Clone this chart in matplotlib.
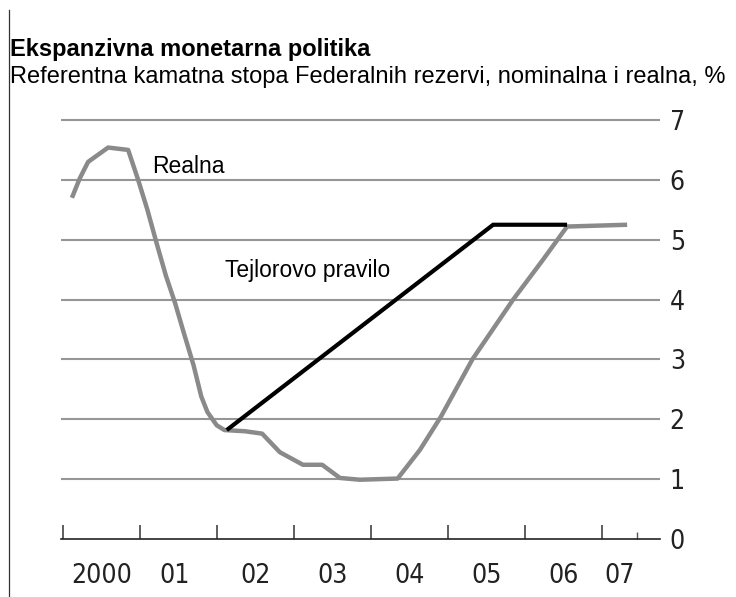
import matplotlib
matplotlib.use("Agg")
import matplotlib.pyplot as plt
from matplotlib.lines import Line2D
from matplotlib import font_manager

# Real federal funds rate (years, %)
real_years = [2000.12, 2000.22, 2000.33, 2000.59, 2000.85, 2000.98, 2001.10,
              2001.22, 2001.34, 2001.46, 2001.56, 2001.70, 2001.80, 2001.88,
              2002.00, 2002.10, 2002.37, 2002.59, 2002.82, 2003.12, 2003.37,
              2003.60, 2003.86, 2004.35, 2004.64, 2004.91, 2005.32, 2005.85,
              2006.24, 2006.55, 2007.33]
real_values = [5.70, 6.02, 6.30, 6.54, 6.50, 6.00, 5.50,
               4.94, 4.40, 3.94, 3.50, 2.90, 2.38, 2.12,
               1.90, 1.82, 1.80, 1.76, 1.45, 1.24, 1.24,
               1.02, 0.99, 1.01, 1.49, 2.04, 3.00, 4.00,
               4.67, 5.22, 5.25]

# Taylor rule path (years, %)
taylor_years = [2002.13, 2005.59, 2006.55]
taylor_values = [1.82, 5.25, 5.25]

# Axis labels
year_ticks = [2000, 2001, 2002, 2003, 2004, 2005, 2006, 2007]
label_positions = [2000.5, 2001.45, 2002.5, 2003.5, 2004.5, 2005.5, 2006.5, 2007.23]
year_labels = ["2000", "01", "02", "03", "04", "05", "06", "07"]
data_end = 2007.46
y_ticks = [0, 1, 2, 3, 4, 5, 6, 7]

title = "Ekspanzivna monetarna politika"
subtitle = "Referentna kamatna stopa Federalnih rezervi, nominalna i realna, %"

# narrow face for the axis numbers, whichever is installed
installed = {f.name for f in font_manager.fontManager.ttflist}
num_family = [f for f in ["Liberation Sans Narrow", "DejaVu Sans Condensed"]
              if f in installed] + ["DejaVu Sans"]
num_stretch = "normal" if num_family[0] != "DejaVu Sans" else "condensed"

W, H = 736, 597
fig = plt.figure(figsize=(W / 100, H / 100), dpi=100)
fig.patch.set_facecolor("white")

# plot area in pixels: x 61..660, value 0 at y=539, value 7 at y=120
px_per_unit = (539 - 120) / 7.0
ymin, ymax = -0.15, 7.1
bottom_px = 539 + (0 - ymin) * px_per_unit
top_px = 120 - (ymax - 7) * px_per_unit
ax = fig.add_axes([61 / W, (H - bottom_px) / H, 599 / W, (bottom_px - top_px) / H])
ax.set_xlim(1999.978, 2007.757)
ax.set_ylim(ymin, ymax)
ax.set_facecolor("none")

for s in ["top", "left", "right"]:
    ax.spines[s].set_visible(False)
ax.spines["bottom"].set_position(("data", 0))
ax.spines["bottom"].set_color("#222222")
ax.spines["bottom"].set_linewidth(1.2)

grid_color = "#969696"
for v in y_ticks[1:]:
    ax.axhline(v, color=grid_color, lw=1.5, zorder=1)

# y labels on the right
ax.yaxis.tick_right()
ax.set_yticks(y_ticks)
ax.set_yticklabels([str(v) for v in y_ticks])
ax.tick_params(axis="y", length=0, pad=7, labelsize=19, labelcolor="#222222")

# year boundaries as inward ticks, labels centred on the years
ax.set_xticks(label_positions)
ax.set_xticklabels(year_labels)
ax.tick_params(axis="x", which="major", length=0, pad=17, labelsize=19,
               labelcolor="#222222")
ax.set_xticks(year_ticks, minor=True)
ax.tick_params(axis="x", which="minor", direction="in", length=10, width=1.1,
               color="#333333")
ax.vlines(data_end, 0, 7 / px_per_unit, color="#555555", lw=1.0)

for lab in ax.get_xticklabels() + ax.get_yticklabels():
    lab.set_family(num_family)
    lab.set_stretch(num_stretch)

ax.plot(real_years, real_values, color="#8a8a8a", lw=3.2,
        solid_joinstyle="round", solid_capstyle="butt", zorder=3)
ax.plot(taylor_years, taylor_values, color="black", lw=3.0,
        solid_joinstyle="miter", solid_capstyle="butt", zorder=4)

ax.text(2001.16, 6.11, "Realna", fontsize=16.5, family="Liberation Sans",
        va="baseline", ha="left")
ax.text(2002.11, 4.38, "Tejlorovo pravilo", fontsize=16.5,
        family="Liberation Sans", va="baseline", ha="left")

fig.text(10 / W, 1 - 56 / H, title, fontsize=17, fontweight="bold",
         family="Liberation Sans", va="baseline", ha="left")
fig.text(10 / W, 1 - 83 / H, subtitle, fontsize=17,
         family="Liberation Sans", va="baseline", ha="left")

# thin rule down the left edge
fig.add_artist(Line2D([8.5 / W, 8.5 / W], [0, 1 - 10 / H],
                      transform=fig.transFigure, color="#333333", lw=0.9))

fig.savefig("out.png", dpi=100, facecolor="white")
